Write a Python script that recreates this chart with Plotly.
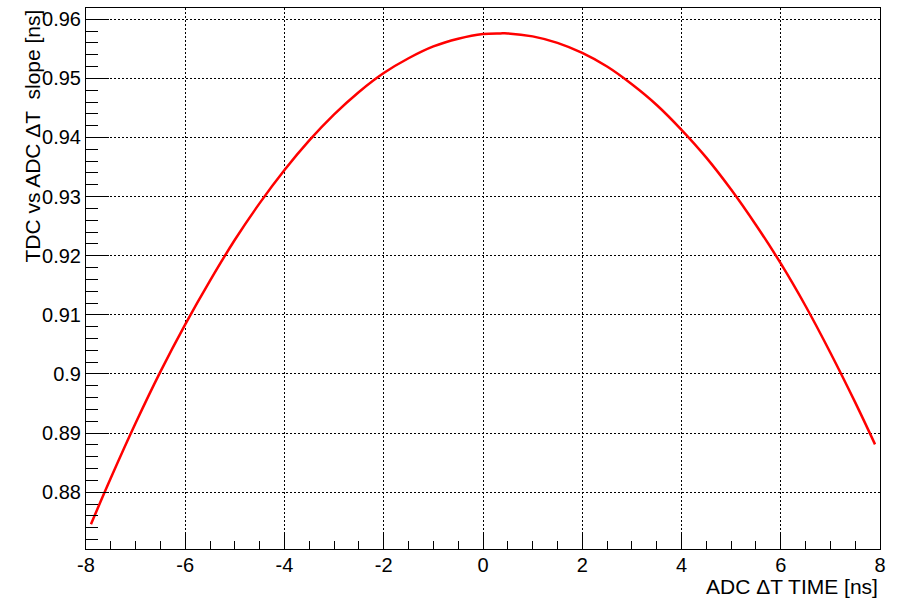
import plotly.graph_objects as go

# Values
x_vals = [-7.9, -7.5, -7.0, -6.5, -6.0, -5.5, -5.0, -4.5, -4.0, -3.5, -3.0, -2.5,
          -2.0, -1.5, -1.0, -0.5, 0.0, 0.35, 0.5, 1.0, 1.5, 2.0, 2.5, 3.0, 3.5,
          4.0, 4.5, 5.0, 5.5, 6.0, 6.5, 7.0, 7.5, 7.9]
y_vals = [0.8746, 0.8824, 0.8917, 0.9004, 0.9084, 0.9158, 0.9227, 0.9289, 0.9345,
          0.9395, 0.9439, 0.9477, 0.9509, 0.9534, 0.9554, 0.9567, 0.9575, 0.9576,
          0.9576, 0.9571, 0.9560, 0.9543, 0.9520, 0.9490, 0.9455, 0.9413, 0.9366,
          0.9312, 0.9252, 0.9187, 0.9115, 0.9036, 0.8952, 0.8881]

x_ticks = [-8, -6, -4, -2, 0, 2, 4, 6, 8]
y_ticks = [0.88, 0.89, 0.90, 0.91, 0.92, 0.93, 0.94, 0.95, 0.96]
y_tick_labels = ["0.88", "0.89", "0.9", "0.91", "0.92", "0.93", "0.94", "0.95", "0.96"]

x_title = "ADC \u0394T TIME [ns]"
y_title = "TDC vs ADC \u0394T  slope [ns]"

FONT = "Liberation Sans, Arial, Helvetica, sans-serif"

fig = go.Figure()
fig.add_trace(go.Scatter(
    x=x_vals, y=y_vals, mode="lines",
    line=dict(color="#ff0000", width=2.5, shape="spline", smoothing=1.0),
    showlegend=False,
))

fig.update_layout(
    width=899, height=598,
    margin=dict(l=86, r=19, t=8, b=49, pad=0),
    paper_bgcolor="white", plot_bgcolor="white",
    font=dict(family=FONT, size=20, color="black"),
    xaxis=dict(
        range=[-8, 8], tickvals=x_ticks, ticktext=[str(v) for v in x_ticks],
        ticks="inside", ticklen=16, tickwidth=1, tickcolor="black",
        minor=dict(dtick=0.5, ticks="inside", ticklen=8, tickcolor="black", showgrid=False),
        showline=True, linecolor="black", linewidth=1, mirror=True,
        showgrid=True, gridcolor="black", gridwidth=1, griddash="2px,2px",
        zeroline=False, tickfont=dict(size=20), ticklabelstandoff=-2,
    ),
    yaxis=dict(
        range=[0.8704, 0.9619], tickvals=y_ticks, ticktext=y_tick_labels,
        ticks="inside", ticklen=23, tickwidth=1, tickcolor="black",
        minor=dict(dtick=0.002, tick0=0.88, ticks="inside", ticklen=12, tickcolor="black", showgrid=False),
        showline=True, linecolor="black", linewidth=1, mirror=True,
        showgrid=True, gridcolor="black", gridwidth=1, griddash="2px,2px",
        zeroline=False, tickfont=dict(size=20),
    ),
    annotations=[
        dict(text=x_title, xref="paper", yref="paper", x=1.0, y=-0.069,
             xanchor="right", yanchor="middle", showarrow=False,
             font=dict(size=21, family=FONT)),
        dict(text=y_title, xref="paper", yref="paper", x=-0.068, y=1.0,
             xanchor="center", yanchor="top", textangle=-90, showarrow=False,
             font=dict(size=21, family=FONT)),
    ],
)

fig.write_html("out.html")
